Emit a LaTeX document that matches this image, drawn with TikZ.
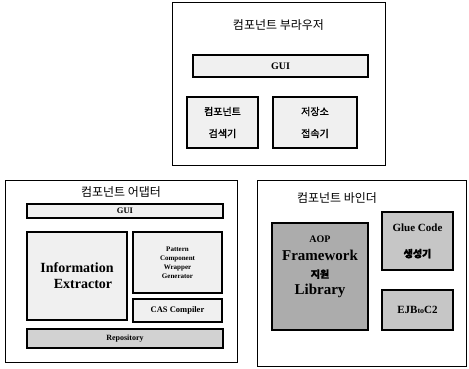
\documentclass[tikz,border=0pt]{standalone}
\usepackage{fontspec}
\setmainfont{Liberation Serif}
\newfontfamily\kr{Noto Sans CJK KR}
\newfontfamily\krb{Noto Sans CJK KR}[FakeBold=1.5]
\begin{document}
\begin{tikzpicture}[x=1pt,y=-1pt,
  outerbox/.style={draw=black,line width=0.8pt,inner sep=0pt},
  lightbox/.style={draw=black,line width=1.2pt,fill=gray!12,inner sep=1pt,align=center,font=\bfseries},
  midbox/.style={draw=black,line width=1.2pt,fill=gray!45,inner sep=1pt,align=center,font=\bfseries},
  darkbox/.style={draw=black,line width=1.2pt,fill=gray!65,inner sep=1pt,align=center,font=\bfseries},
  title/.style={font=\kr\fontsize{12}{14}\selectfont,inner sep=0pt}]
\useasboundingbox (0,0) rectangle (469,368);
% top: component browser
\node[outerbox,minimum width=213pt,minimum height=163pt] (browser) at (278.5,83.5) {};
\node[title] (browsertitle) at (278.5,25) {컴포넌트 부라우저};
\node[lightbox,minimum width=175pt,minimum height=22pt,font=\bfseries\fontsize{10}{11}\selectfont] (bgui) at (280.5,66) {GUI};
\node[lightbox,minimum width=71pt,minimum height=51pt,font=\krb\fontsize{10}{11}\selectfont] (search) at (222.5,122.5) {컴포넌트\\[11pt]검색기};
\node[lightbox,minimum width=84pt,minimum height=51pt,font=\krb\fontsize{10}{11}\selectfont] (repoacc) at (315,122.5) {저장소\\[11pt]접속기};
% left: component adapter
\node[outerbox,minimum width=232pt,minimum height=182pt] (adapter) at (121,271) {};
\node[title] (adaptertitle) at (121,192) {컴포넌트 어댑터};
\node[lightbox,minimum width=196pt,minimum height=14pt,font=\bfseries\fontsize{8.5}{9}\selectfont] (agui) at (125,211) {GUI};
\node[lightbox,minimum width=100pt,minimum height=88pt,font=\bfseries\fontsize{14}{16}\selectfont] (ie) at (77,276) {Information\\\hspace*{12pt}Extractor};
\node[lightbox,minimum width=89pt,minimum height=61pt,font=\bfseries\fontsize{7}{9}\selectfont] (pattern) at (177.5,262.5) {Pattern\\Component\\Wrapper\\Generator};
\node[lightbox,minimum width=89pt,minimum height=23pt,font=\bfseries\fontsize{8.5}{9}\selectfont] (cas) at (177.5,310.5) {CAS Compiler};
\node[midbox,fill=gray!35,minimum width=196pt,minimum height=19pt,font=\bfseries\fontsize{8}{9}\selectfont] (repo) at (125,338.5) {Repository};
% right: component binder
\node[outerbox,minimum width=209pt,minimum height=186pt] (binder) at (361.5,273) {};
\node[title] (bindertitle) at (337,198) {컴포넌트 바인더};
\node[darkbox,minimum width=96pt,minimum height=107pt,font=\bfseries\fontsize{15}{16}\selectfont] (fw) at (320,276.5) {{\fontsize{10}{11}\selectfont AOP}\\[2pt]Framework\\[1pt]{\krb\fontsize{10}{11}\selectfont 지원}\\[1pt]Library\\[6pt]};
\node[midbox,minimum width=71pt,minimum height=58pt,font=\bfseries\fontsize{11}{12}\selectfont] (glue) at (417.5,241) {Glue Code\\[14pt]{\krb\fontsize{10}{11}\selectfont 생성기}};
\node[midbox,minimum width=71pt,minimum height=40pt,font=\bfseries\fontsize{11}{12}\selectfont] (ejb) at (417.5,310) {EJB{\fontsize{8}{8}\selectfont to}C2};
\end{tikzpicture}
\end{document}
